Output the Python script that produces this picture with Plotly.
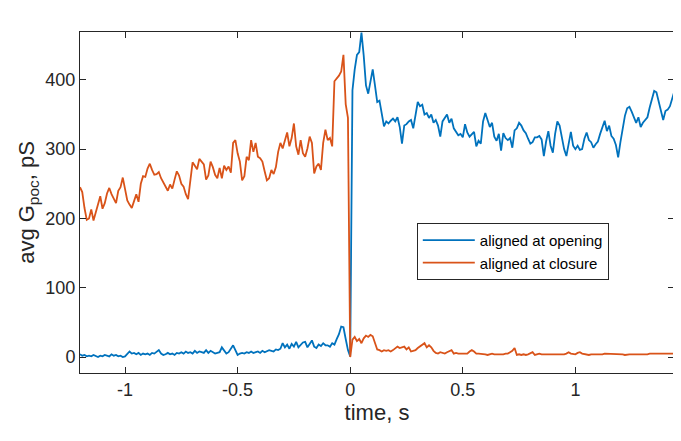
import plotly.graph_objects as go

# time axis, s (shared by both traces)
time_s = [
    -1.20, -1.19, -1.18, -1.17, -1.16, -1.15, -1.14, -1.13, -1.12, -1.11,
    -1.10, -1.09, -1.08, -1.07, -1.06, -1.05, -1.04, -1.03, -1.02, -1.01,
    -1.00, -0.99, -0.98, -0.97, -0.96, -0.95, -0.94, -0.93, -0.92, -0.91,
    -0.90, -0.89, -0.88, -0.87, -0.86, -0.85, -0.84, -0.83, -0.82, -0.81,
    -0.80, -0.79, -0.78, -0.77, -0.76, -0.75, -0.74, -0.73, -0.72, -0.71,
    -0.70, -0.69, -0.68, -0.67, -0.66, -0.65, -0.64, -0.63, -0.62, -0.61,
    -0.60, -0.59, -0.58, -0.57, -0.56, -0.55, -0.54, -0.53, -0.52, -0.51,
    -0.50, -0.49, -0.48, -0.47, -0.46, -0.45, -0.44, -0.43, -0.42, -0.41,
    -0.40, -0.39, -0.38, -0.37, -0.36, -0.35, -0.34, -0.33, -0.32, -0.31,
    -0.30, -0.29, -0.28, -0.27, -0.26, -0.25, -0.24, -0.23, -0.22, -0.21,
    -0.20, -0.19, -0.18, -0.17, -0.16, -0.15, -0.14, -0.13, -0.12, -0.11,
    -0.10, -0.09, -0.08, -0.07, -0.06, -0.05, -0.04, -0.03, -0.02, -0.01,
    0.00,
    0.01, 0.02, 0.03, 0.04, 0.05, 0.06, 0.07, 0.08, 0.09, 0.10,
    0.11, 0.12, 0.13, 0.14, 0.15, 0.16, 0.17, 0.18, 0.19, 0.20,
    0.21, 0.22, 0.23, 0.24, 0.25, 0.26, 0.27, 0.28, 0.29, 0.30,
    0.31, 0.32, 0.33, 0.34, 0.35, 0.36, 0.37, 0.38, 0.39, 0.40,
    0.41, 0.42, 0.43, 0.44, 0.45, 0.46, 0.47, 0.48, 0.49, 0.50,
    0.51, 0.52, 0.53, 0.54, 0.55, 0.56, 0.57, 0.58, 0.59, 0.60,
    0.61, 0.62, 0.63, 0.64, 0.65, 0.66, 0.67, 0.68, 0.69, 0.70,
    0.71, 0.72, 0.73, 0.74, 0.75, 0.76, 0.77, 0.78, 0.79, 0.80,
    0.81, 0.82, 0.83, 0.84, 0.85, 0.86, 0.87, 0.88, 0.89, 0.90,
    0.91, 0.92, 0.93, 0.94, 0.95, 0.96, 0.97, 0.98, 0.99, 1.00,
    1.01, 1.02, 1.03, 1.04, 1.05, 1.06, 1.07, 1.08, 1.09, 1.10,
    1.11, 1.12, 1.13, 1.14, 1.15, 1.16, 1.17, 1.18, 1.19, 1.20,
    1.21, 1.22, 1.23, 1.24, 1.25, 1.26, 1.27, 1.28, 1.29, 1.30,
    1.31, 1.32, 1.33, 1.34, 1.35, 1.36, 1.37, 1.38, 1.39, 1.40,
    1.41, 1.42, 1.43, 1.44,
]

# avg G_poc (pS), aligned at opening
g_opening = [
    4, 2, 3, 1, 2, 1, 3, 1, 0, 2, 1, 3, 2, 1, 4, 2, 3, 1, 2, 0,
    1, 5, 8, 5, 6, 4, 6, 3, 5, 4,
    5, 3, 6, 5, 7, 10, 5, 3, 4, 6,
    4, 5, 3, 6, 5, 7, 5, 8, 6, 7,
    5, 9, 6, 8, 7, 6, 10, 6, 9, 7,
    5, 6, 7, 14, 9, 5, 7, 12, 17, 10,
    3, 5, 6, 5, 7, 6, 8, 6, 7, 8,
    6, 9, 7, 8, 10, 9, 8, 11, 10, 12,
    20, 14, 18, 12, 19, 15, 22, 14, 17, 21,
    22, 14, 19, 24, 15, 13, 18, 16, 20, 17,
    17, 15, 20, 18, 26, 33, 44, 43, 26, 10,
    1,
    385, 415, 436, 440, 468, 435, 392, 380, 398, 415,
    392, 368, 370, 350, 333, 340, 337, 341, 344, 340,
    346, 332, 308, 334, 336, 340, 342, 330, 350, 368,
    362, 364, 350, 352, 345, 350, 338, 342, 334, 318,
    340, 346, 350, 338, 344, 330, 325, 320, 322, 317,
    336, 324, 318, 322, 325, 304, 312, 308, 340, 352,
    342, 332, 338, 318, 312, 322, 298, 323, 316, 313,
    316, 302, 327, 330, 338, 334, 327, 323, 315, 308,
    310, 317, 317, 319, 314, 290, 311, 326, 305, 295,
    322, 340, 334, 314, 300, 290, 307, 325, 305, 300,
    305, 299, 300, 315, 324, 313, 310, 302, 307, 311,
    322, 332, 341, 326, 334, 319, 315, 306, 288, 310,
    330, 348, 359, 361, 354, 346, 338, 346, 332, 338,
    342, 346, 360, 374, 384, 382, 370, 357, 342, 355,
    357, 362, 374, 384,
]

# avg G_poc (pS), aligned at closure
g_closure = [
    245, 238, 215, 198, 200, 213, 197, 208, 218, 232,
    214, 222, 236, 244, 235, 228, 222, 240, 245, 259,
    240, 226, 220, 215, 225, 235, 224, 250, 261, 260,
    272, 279, 270, 263, 264, 267, 258, 252, 245, 240,
    249, 243, 256, 268, 262, 250, 246, 235, 228, 259,
    281, 276, 271, 286, 282, 278, 256, 262, 282, 274,
    263, 258, 273, 258, 276, 270, 275, 266, 309, 313,
    294, 282, 255, 261, 289, 284, 313, 296, 309, 289,
    287, 282, 268, 255, 258, 270, 264, 274, 296, 309,
    301, 313, 324, 304, 316, 337, 304, 292, 313, 294,
    289, 301, 318, 309, 265, 275, 279, 270, 309, 328,
    313, 316, 304, 398, 402, 406, 412, 436, 365, 345,
    0,
    25, 29, 23, 26, 20, 27, 31, 29, 32, 30,
    20, 11, 10, 8, 10, 9, 10, 8, 10, 12,
    15, 13, 14, 15, 11, 14, 8, 9, 10, 13,
    15, 18, 20, 14, 17, 14, 9, 6, 5, 7,
    6, 5, 7, 8, 10, 5, 6, 5, 5, 6,
    5, 5, 8, 10, 8, 5, 5, 5, 4, 4,
    3, 4, 5, 4, 4, 4, 3, 4, 5, 5,
    7, 9, 13, 3, 4, 3, 4, 3, 4, 5,
    7, 3, 4, 5, 4, 4, 4, 3, 4, 4,
    3, 3, 3, 3, 4, 5, 7, 5, 4, 4,
    6, 7, 5, 4, 3, 3, 4, 4, 4, 3,
    4, 4, 5, 5, 4, 4, 4, 5, 4, 5,
    4, 3, 4, 4, 4, 4, 3, 4, 4, 4,
    4, 4, 5, 5, 5, 6, 6, 6, 5, 5,
    5, 6, 5, 5,
]

x_ticks = [-1, -0.5, 0, 0.5, 1]
x_tick_labels = ['-1', '-0.5', '0', '0.5', '1']
y_ticks = [0, 100, 200, 300, 400]

AXIS_COLOR = '#262626'

fig = go.Figure()
fig.add_trace(go.Scatter(x=time_s, y=g_opening, mode='lines',
                         name='aligned at opening',
                         line=dict(color='#0072BD', width=1.8)))
fig.add_trace(go.Scatter(x=time_s, y=g_closure, mode='lines',
                         name='aligned at closure',
                         line=dict(color='#D95319', width=1.8)))

# the page adds an 8 px body margin, so margins are trimmed to compensate
fig.update_layout(
    width=681,
    height=441,
    margin=dict(l=72, r=15, t=24, b=76),
    plot_bgcolor='white',
    paper_bgcolor='white',
    font=dict(family='Arial', size=18, color=AXIS_COLOR),
    legend=dict(
        x=0.567, y=0.44, xanchor='left', yanchor='top',
        bgcolor='white', bordercolor=AXIS_COLOR, borderwidth=1,
        font=dict(size=15, color='black'),
        itemwidth=52, tracegroupgap=0,
    ),
)

fig.update_xaxes(
    range=[-1.2, 1.438], automargin=False,
    tickvals=x_ticks, ticktext=x_tick_labels,
    ticks='inside', ticklen=6, tickcolor=AXIS_COLOR,
    showline=True, linecolor=AXIS_COLOR, linewidth=1, mirror='ticks',
    showgrid=False, zeroline=False,
    title=dict(text='time, s', font=dict(size=22), standoff=4),
)
fig.update_yaxes(
    range=[-23, 469], automargin=False,
    tickvals=y_ticks,
    ticks='inside', ticklen=6, tickcolor=AXIS_COLOR,
    showline=True, linecolor=AXIS_COLOR, linewidth=1, mirror='ticks',
    showgrid=False, zeroline=False,
    title=dict(text='avg G<sub>poc</sub>, pS', font=dict(size=22), standoff=4),
)

fig.write_html("out.html")
